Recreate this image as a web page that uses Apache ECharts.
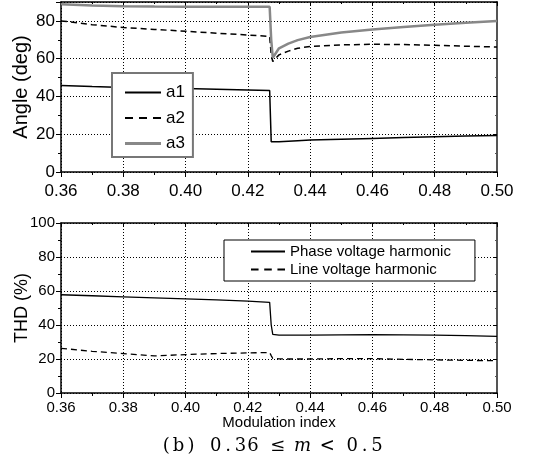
<!DOCTYPE html>
<html>
<head>
<meta charset="utf-8">
<script src="https://cdn.jsdelivr.net/npm/echarts@6/dist/echarts.min.js"></script>
<style>
  html, body { margin: 0; padding: 0; background: #fff; }
  #chart { width: 549px; height: 456px; }
</style>
</head>
<body>
<div id="chart"></div>
<script>
// modulation index samples (shared by both panels)
const mIndex = [0.36, 0.37, 0.38, 0.39, 0.40, 0.41, 0.42, 0.427, 0.4275, 0.428, 0.43, 0.433, 0.436, 0.44, 0.45, 0.46, 0.47, 0.48, 0.49, 0.50];

// switching angles (deg)
const a1 = [45.8, 45.2, 44.8, 44.5, 44.2, 43.8, 43.4, 43.1, 16.0, 15.5, 16.0, 16.3, 16.6, 16.9, 17.4, 17.8, 18.2, 18.6, 19.0, 19.3];
const a2 = [80.0, 78.0, 76.5, 75.5, 74.5, 73.5, 72.5, 71.8, 62.0, 58.5, 62.0, 64.0, 65.5, 66.5, 67.3, 67.6, 67.5, 67.1, 66.6, 66.2];
const a3 = [88.8, 88.2, 87.8, 87.6, 87.5, 87.5, 87.5, 87.5, 70.0, 60.5, 65.5, 68.0, 69.8, 71.5, 73.8, 75.5, 76.8, 78.0, 79.0, 80.0];

// THD (%)
const thdPhase = [57.8, 57.2, 56.6, 56.0, 55.4, 54.8, 54.0, 53.3, 40.0, 34.5, 34.0, 34.0, 34.0, 34.0, 34.2, 34.3, 34.2, 34.0, 33.7, 33.3];
const thdLine = [26.3, 24.5, 23.2, 21.8, 22.6, 23.2, 23.6, 23.8, 22.0, 20.3, 20.1, 20.0, 20.0, 20.0, 20.2, 20.2, 19.8, 19.5, 19.2, 19.0];

const xTicks = { min: 0.36, max: 0.50, interval: 0.02 };
const caption = '(b) 0.36 ≤ m < 0.5';

const pairs = (ys) => mIndex.map((x, i) => [x, ys[i]]);

const chart = echarts.init(document.getElementById('chart'));

const font = 'Arial, "Liberation Sans", sans-serif';
const serif = '"DejaVu Serif", "Liberation Serif", serif';

// legend icons: flat strokes drawn as filled paths
const solidIcon = 'path://M0,0H36V2H0Z';
const thickIcon = 'path://M0,0H36V3H0Z';
const dashIcon = 'path://M0,0H8V2H0Z M14,0H22V2H14Z M28,0H36V2H28Z';

function xAxis(gridIndex, size, margin, extra) {
  return Object.assign({
    type: 'value', gridIndex,
    min: xTicks.min, max: xTicks.max, interval: xTicks.interval,
    axisLine: { onZero: false, lineStyle: { color: '#000', width: 1.5 } },
    axisTick: { show: true, length: 5, lineStyle: { color: '#000' } },
    minorTick: { show: true, splitNumber: 2, length: 3, lineStyle: { color: '#000' } },
    axisLabel: { color: '#000', fontFamily: font, fontSize: size, margin,
      formatter: (v) => v.toFixed(2) },
    splitLine: { show: true, lineStyle: { color: '#000', type: [1, 2], width: 1 } }
  }, extra);
}

function mirrorX(gridIndex) {
  return {
    type: 'value', gridIndex, position: 'top',
    min: xTicks.min, max: xTicks.max, interval: xTicks.interval,
    axisLine: { show: true, onZero: false, lineStyle: { color: '#000', width: 1.5 } },
    axisTick: { show: true, inside: true, length: 4, lineStyle: { color: '#000' } },
    minorTick: { show: true, splitNumber: 2, length: 2 },
    axisLabel: { show: false }, splitLine: { show: false }
  };
}

function yAxis(gridIndex, max, name, nameSize, labelSize) {
  return {
    type: 'value', gridIndex, min: 0, max, interval: 20,
    name, nameLocation: 'middle', nameGap: 30, nameMoveOverlap: false,
    nameTextStyle: { color: '#000', fontFamily: font, fontSize: nameSize },
    axisLine: { show: true, onZero: false, lineStyle: { color: '#000', width: 1.5 } },
    axisTick: { show: true, length: 5, lineStyle: { color: '#000' } },
    minorTick: { show: true, splitNumber: 2, length: 3, lineStyle: { color: '#000' } },
    axisLabel: { color: '#000', fontFamily: font, fontSize: labelSize, margin: 6, showMaxLabel: max % 20 === 0 },
    splitLine: { show: true, lineStyle: { color: '#000', type: [1, 2], width: 1 } }
  };
}

function mirrorY(gridIndex, max) {
  return {
    type: 'value', gridIndex, position: 'right', min: 0, max, interval: 20,
    axisLine: { show: true, onZero: false, lineStyle: { color: '#555', width: 2 } },
    axisTick: { show: true, inside: true, length: 4, lineStyle: { color: '#000' } },
    minorTick: { show: true, splitNumber: 2, length: 2 },
    axisLabel: { show: false }, splitLine: { show: false }
  };
}

// caption: fixed-width cells like the original typeset figure label
const captionRich = caption.split('').map((ch) => (ch === 'm' ? '{i|m}' : '{c|' + ch + '}')).join('');

chart.setOption({
  animation: false,
  backgroundColor: '#fff',
  grid: [
    { left: 61, top: 2, width: 436, height: 170, outerBoundsMode: 'none' },
    { left: 61, top: 223, width: 436, height: 170, outerBoundsMode: 'none' }
  ],
  xAxis: [
    xAxis(0, 17, 11),
    mirrorX(0),
    xAxis(1, 15, 7, { name: 'Modulation index', nameLocation: 'middle', nameGap: 22, nameMoveOverlap: false,
      nameTextStyle: { color: '#000', fontFamily: font, fontSize: 15 } }),
    mirrorX(1)
  ],
  yAxis: [
    yAxis(0, 90, 'Angle (deg)', 20, 17),
    mirrorY(0, 90),
    yAxis(1, 100, 'THD (%)', 18, 15),
    mirrorY(1, 100)
  ],
  legend: [
    {
      data: [
        { name: 'a1', icon: solidIcon },
        { name: 'a2', icon: dashIcon },
        { name: 'a3', icon: thickIcon }
      ],
      orient: 'vertical', left: 112, top: 73,
      padding: [11, 8, 5, 13], itemGap: 8.5, itemWidth: 36, itemHeight: 3,
      borderColor: '#777', borderWidth: 2, backgroundColor: '#fff',
      textStyle: { color: '#000', fontFamily: font, fontSize: 17 }
    },
    {
      data: [
        { name: 'Phase voltage harmonic', icon: solidIcon },
        { name: 'Line voltage harmonic', icon: dashIcon }
      ],
      orient: 'vertical', left: 224, top: 240,
      padding: [4, 24, 4, 27], itemGap: 3, itemWidth: 34, itemHeight: 3,
      borderColor: '#000', borderWidth: 1, backgroundColor: '#fff',
      textStyle: { color: '#000', fontFamily: font, fontSize: 15 }
    }
  ],
  title: {
    text: captionRich, left: 155, top: 432,
    textStyle: {
      color: '#000', fontFamily: serif, fontSize: 18, fontWeight: 'normal',
      rich: {
        c: { fontFamily: serif, fontSize: 18, width: 12.4, align: 'center' },
        i: { fontFamily: serif, fontSize: 18, fontStyle: 'italic', width: 12.4, align: 'center' }
      }
    }
  },
  series: [
    { name: 'a1', type: 'line', xAxisIndex: 0, yAxisIndex: 0, data: pairs(a1), symbol: 'none',
      lineStyle: { color: '#000', width: 1.5 }, itemStyle: { color: '#000' } },
    { name: 'a2', type: 'line', xAxisIndex: 0, yAxisIndex: 0, data: pairs(a2), symbol: 'none',
      lineStyle: { color: '#000', width: 1.5, type: [6, 4] }, itemStyle: { color: '#000' } },
    { name: 'a3', type: 'line', xAxisIndex: 0, yAxisIndex: 0, data: pairs(a3), symbol: 'none',
      lineStyle: { color: '#888', width: 2.5 }, itemStyle: { color: '#888' } },
    { name: 'Phase voltage harmonic', type: 'line', xAxisIndex: 2, yAxisIndex: 2, data: pairs(thdPhase), symbol: 'none',
      lineStyle: { color: '#000', width: 1.3 }, itemStyle: { color: '#000' } },
    { name: 'Line voltage harmonic', type: 'line', xAxisIndex: 2, yAxisIndex: 2, data: pairs(thdLine), symbol: 'none',
      lineStyle: { color: '#000', width: 1.3, type: [6, 4] }, itemStyle: { color: '#000' } }
  ]
});
</script>
</body>
</html>
